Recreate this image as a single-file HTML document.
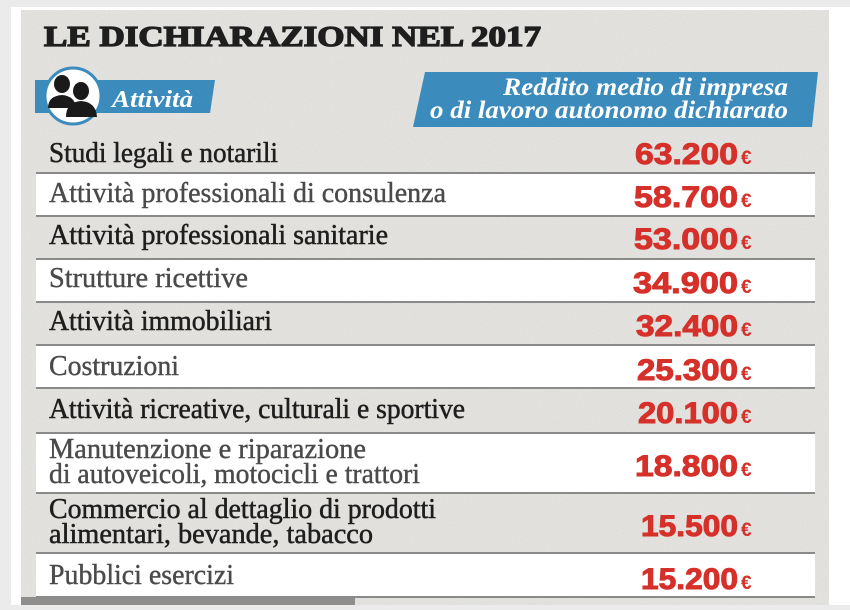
<!DOCTYPE html>
<html><head><meta charset="utf-8"><style>
html,body{margin:0;padding:0;background:#fff;}
svg{display:block;}
</style></head><body>
<svg width="850" height="610" viewBox="0 0 850 610" xmlns="http://www.w3.org/2000/svg">
<defs>
<filter id="noise" x="0" y="0" width="100%" height="100%">
<feTurbulence type="fractalNoise" baseFrequency="0.9" numOctaves="2" seed="3"/>
<feColorMatrix type="matrix" values="0 0 0 0 0.45  0 0 0 0 0.45  0 0 0 0 0.44  0 0 0 -1.6 0.9"/>
</filter>
</defs>
<rect x="0" y="0" width="850" height="610" fill="#fff"/>
<rect x="0" y="0" width="850" height="7" fill="#ebebeb"/>
<rect x="0" y="0" width="11" height="610" fill="#ebebeb"/>
<rect x="0" y="605" width="850" height="5" fill="#ebebeb"/>
<rect x="21" y="10" width="808" height="595" fill="#e3e2df"/>
<rect x="21" y="10" width="808" height="595" filter="url(#noise)" opacity="0.25"/>
<rect x="21" y="597" width="334" height="8" fill="#8f8e8c"/>

<!-- title -->
<text x="44" y="46" font-family="Liberation Serif" font-weight="bold" font-size="28" fill="#1e1e1e" textLength="497" lengthAdjust="spacingAndGlyphs" stroke="#1e1e1e" stroke-width="1.3">LE DICHIARAZIONI NEL 2017</text>

<!-- left banner -->
<polygon points="35,80 215,80 210,113 35,113" fill="#3b8bbd"/>
<circle cx="73" cy="96" r="28" fill="#fff" stroke="#3b8bbd" stroke-width="3"/>
<g fill="#1a1a1a">
<ellipse cx="62" cy="84" rx="8" ry="9"/>
<path d="M48,108 Q48,96 62,95 Q75,96 76,108 Z"/>
<ellipse cx="81" cy="91" rx="8" ry="9"/>
<path d="M66,117 Q66,102 81,101 Q96,102 97,117 Z"/>
</g>
<text x="112" y="107" font-family="Liberation Serif" font-style="italic" font-weight="bold" font-size="24" fill="#fff" textLength="81" lengthAdjust="spacingAndGlyphs">Attività</text>

<!-- right banner -->
<polygon points="425,72 818,72 812,127 413,127" fill="#3b8bbd"/>
<text x="788" y="95" text-anchor="end" font-family="Liberation Serif" font-style="italic" font-weight="bold" font-size="25" fill="#fff" textLength="285" lengthAdjust="spacingAndGlyphs">Reddito medio di impresa</text>
<text x="788" y="118" text-anchor="end" font-family="Liberation Serif" font-style="italic" font-weight="bold" font-size="25" fill="#fff" textLength="358" lengthAdjust="spacingAndGlyphs">o di lavoro autonomo dichiarato</text>

<!-- white rows -->
<g fill="#fff">
<rect x="36" y="173" width="779" height="43"/>
<rect x="36" y="259" width="779" height="43"/>
<rect x="36" y="345" width="779" height="43"/>
<rect x="36" y="433" width="779" height="60"/>
<rect x="36" y="553" width="779" height="44"/>
</g>
<g fill="#8a8a8a">
<rect x="36" y="172" width="779" height="2"/>
<rect x="36" y="215" width="779" height="2"/>
<rect x="36" y="258" width="779" height="2"/>
<rect x="36" y="301" width="779" height="2"/>
<rect x="36" y="344" width="779" height="2"/>
<rect x="36" y="387" width="779" height="2"/>
<rect x="36" y="432" width="779" height="2"/>
<rect x="36" y="492" width="779" height="2"/>
<rect x="36" y="552" width="779" height="2"/>
<rect x="36" y="596" width="779" height="2"/>
</g>

<!-- labels -->
<g font-family="Liberation Serif" font-size="28">
<g fill="#1e1e1e" stroke="#1e1e1e" stroke-width="0.5">
<text x="49" y="162" textLength="229" lengthAdjust="spacingAndGlyphs">Studi legali e notarili</text>
<text x="49" y="244" textLength="339" lengthAdjust="spacingAndGlyphs">Attività professionali sanitarie</text>
<text x="49" y="330" textLength="223" lengthAdjust="spacingAndGlyphs">Attività immobiliari</text>
<text x="49" y="418" textLength="416" lengthAdjust="spacingAndGlyphs">Attività ricreative, culturali e sportive</text>
<text x="49" y="518" textLength="387" lengthAdjust="spacingAndGlyphs">Commercio al dettaglio di prodotti</text>
<text x="49" y="543" textLength="324" lengthAdjust="spacingAndGlyphs">alimentari, bevande, tabacco</text>
</g>
<g fill="#4a4a4a" stroke="#4a4a4a" stroke-width="0.4">
<text x="49" y="202" textLength="397" lengthAdjust="spacingAndGlyphs">Attività professionali di consulenza</text>
<text x="49" y="287" textLength="199" lengthAdjust="spacingAndGlyphs">Strutture ricettive</text>
<text x="49" y="375" textLength="130" lengthAdjust="spacingAndGlyphs">Costruzioni</text>
<text x="49" y="458" textLength="317" lengthAdjust="spacingAndGlyphs">Manutenzione e riparazione</text>
<text x="49" y="483" textLength="371" lengthAdjust="spacingAndGlyphs">di autoveicoli, motocicli e trattori</text>
<text x="49" y="584" textLength="185" lengthAdjust="spacingAndGlyphs">Pubblici esercizi</text>
</g>
</g>

<!-- values -->
<g font-family="Liberation Sans" font-weight="bold" fill="#d5302a" stroke="#d5302a" stroke-width="1" font-size="30">
<text x="635" y="164" textLength="103" lengthAdjust="spacingAndGlyphs">63.200</text>
<text x="634" y="207" textLength="104" lengthAdjust="spacingAndGlyphs">58.700</text>
<text x="634" y="249" textLength="104" lengthAdjust="spacingAndGlyphs">53.000</text>
<text x="633" y="293" textLength="105" lengthAdjust="spacingAndGlyphs">34.900</text>
<text x="636" y="336" textLength="102" lengthAdjust="spacingAndGlyphs">32.400</text>
<text x="637" y="380" textLength="101" lengthAdjust="spacingAndGlyphs">25.300</text>
<text x="638" y="423" textLength="100" lengthAdjust="spacingAndGlyphs">20.100</text>
<text x="635" y="476" textLength="103" lengthAdjust="spacingAndGlyphs">18.800</text>
<text x="641" y="536" textLength="97" lengthAdjust="spacingAndGlyphs">15.500</text>
<text x="641" y="589" textLength="97" lengthAdjust="spacingAndGlyphs">15.200</text>
</g>
<g font-family="Liberation Sans" font-weight="bold" fill="#d5302a" font-size="19">
<text x="741" y="164">€</text>
<text x="741" y="207">€</text>
<text x="741" y="249">€</text>
<text x="741" y="293">€</text>
<text x="741" y="336">€</text>
<text x="741" y="380">€</text>
<text x="741" y="423">€</text>
<text x="741" y="476">€</text>
<text x="741" y="536">€</text>
<text x="741" y="589">€</text>
</g>
</svg>
</body></html>
